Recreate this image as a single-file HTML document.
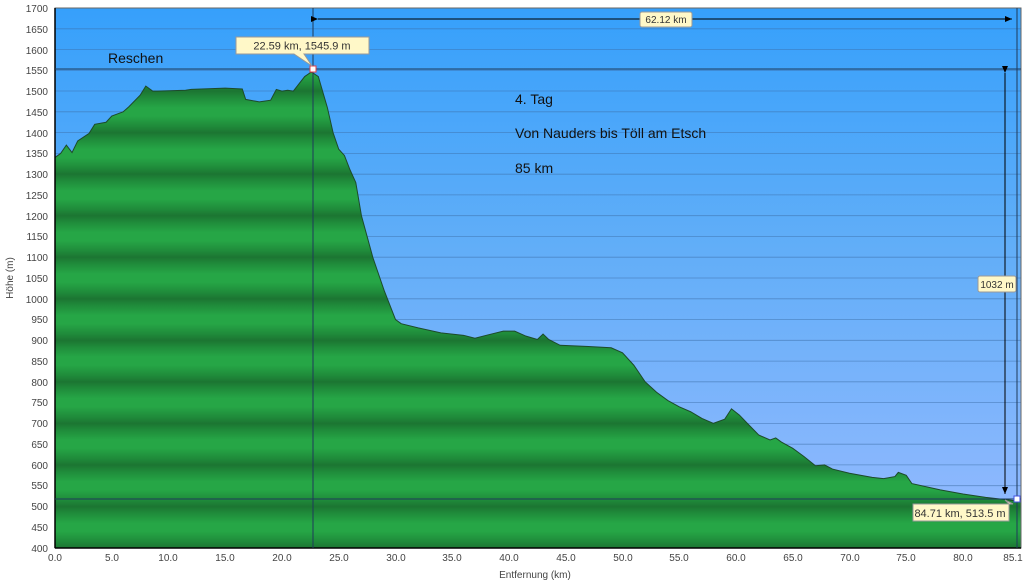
<!DOCTYPE html>
<html><head><meta charset="utf-8"><style>
body{margin:0;background:#fff;width:1024px;height:583px;overflow:hidden;font-family:"Liberation Sans",sans-serif}
svg{position:absolute;left:0;top:0}
</style></head><body>
<svg width="1024" height="583" viewBox="0 0 1024 583">
<defs>
<linearGradient id="sky" x1="0" y1="0" x2="0" y2="1">
<stop offset="0" stop-color="#36a0fb"/><stop offset="0.45" stop-color="#62aef8"/><stop offset="1" stop-color="#96baff"/></linearGradient>
<linearGradient id="sg" x1="0" y1="0" x2="0" y2="1">
<stop offset="0" stop-color="#1c7532"/><stop offset="0.15" stop-color="#1f8a3a"/><stop offset="0.4" stop-color="#26a646"/><stop offset="0.6" stop-color="#26a646"/><stop offset="0.85" stop-color="#1f8a3a"/><stop offset="1" stop-color="#1c7532"/></linearGradient>
<pattern id="stripes" x="0" y="8" width="20" height="41.54" patternUnits="userSpaceOnUse">
<rect width="20" height="41.54" fill="url(#sg)"/>
</pattern>
<clipPath id="cp">
<polygon transform="translate(55,548) scale(11.35,-0.41538) translate(0,-400)" points="0,400 0,1340 0.5,1350 1,1370 1.5,1352 2,1380 3,1398 3.5,1420 4.5,1425 5,1440 5.5,1445 6,1450 6.5,1462 7.5,1490 8,1512 8.6,1500 9,1500 11.5,1502 12,1504 15,1507 16.5,1505 16.8,1480 18,1474 19,1478 19.5,1504 20,1500 20.5,1502 21,1500 22,1535 22.59,1545.9 23.2,1535 24,1460 24.5,1400 25,1360 25.5,1345 26,1310 26.5,1280 27,1200 27.5,1150 28,1100 28.5,1060 29,1020 30,950 30.5,940 32,930 34,918 36,912 37,905 38,912 39.5,922 40.5,922 41.5,910 42.5,902 43,915 43.5,902 44.5,888 47,885 49,882 50,870 51,840 52,800 53,775 54,755 55,740 56,728 57,712 58,700 59,710 59.6,735 60.3,720 61,700 62,672 63,660 63.5,665 64,655 65,640 66,620 67,598 67.8,600 68.5,590 70,580 72,570 73,567 74,572 74.3,582 75,575 75.5,555 78,540 80,530 82,522 84.71,513.5 85.1,516 85.1,400"/>
</clipPath>
<marker id="ar" markerWidth="8" markerHeight="8" refX="7" refY="4" orient="auto"><path d="M0,1 L7,4 L0,7z" fill="#000"/></marker>
</defs>
<rect x="0" y="0" width="1024" height="583" fill="#fff"/>
<rect x="55" y="8" width="966" height="540" fill="url(#sky)"/>
<g stroke="#3d6fa8" stroke-width="0.8" opacity="0.6">
<line x1="55" x2="1021" y1="28.8" y2="28.8"/><line x1="55" x2="1021" y1="49.5" y2="49.5"/><line x1="55" x2="1021" y1="70.3" y2="70.3"/><line x1="55" x2="1021" y1="91" y2="91"/><line x1="55" x2="1021" y1="111.8" y2="111.8"/><line x1="55" x2="1021" y1="132.6" y2="132.6"/><line x1="55" x2="1021" y1="153.4" y2="153.4"/><line x1="55" x2="1021" y1="174.2" y2="174.2"/><line x1="55" x2="1021" y1="194.9" y2="194.9"/><line x1="55" x2="1021" y1="215.7" y2="215.7"/><line x1="55" x2="1021" y1="236.5" y2="236.5"/><line x1="55" x2="1021" y1="257.2" y2="257.2"/><line x1="55" x2="1021" y1="278" y2="278"/><line x1="55" x2="1021" y1="298.8" y2="298.8"/><line x1="55" x2="1021" y1="319.5" y2="319.5"/><line x1="55" x2="1021" y1="340.3" y2="340.3"/><line x1="55" x2="1021" y1="361.1" y2="361.1"/><line x1="55" x2="1021" y1="381.8" y2="381.8"/><line x1="55" x2="1021" y1="402.6" y2="402.6"/><line x1="55" x2="1021" y1="423.4" y2="423.4"/><line x1="55" x2="1021" y1="444.2" y2="444.2"/><line x1="55" x2="1021" y1="464.9" y2="464.9"/><line x1="55" x2="1021" y1="485.7" y2="485.7"/><line x1="55" x2="1021" y1="506.5" y2="506.5"/><line x1="55" x2="1021" y1="527.2" y2="527.2"/>
</g>
<rect x="55" y="8" width="966" height="540" fill="url(#stripes)" clip-path="url(#cp)"/>
<polyline transform="translate(55,548) scale(11.35,-0.41538) translate(0,-400)" fill="none" stroke="#1d4a2a" stroke-width="1" vector-effect="non-scaling-stroke" points="0,1340 0.5,1350 1,1370 1.5,1352 2,1380 3,1398 3.5,1420 4.5,1425 5,1440 5.5,1445 6,1450 6.5,1462 7.5,1490 8,1512 8.6,1500 9,1500 11.5,1502 12,1504 15,1507 16.5,1505 16.8,1480 18,1474 19,1478 19.5,1504 20,1500 20.5,1502 21,1500 22,1535 22.59,1545.9 23.2,1535 24,1460 24.5,1400 25,1360 25.5,1345 26,1310 26.5,1280 27,1200 27.5,1150 28,1100 28.5,1060 29,1020 30,950 30.5,940 32,930 34,918 36,912 37,905 38,912 39.5,922 40.5,922 41.5,910 42.5,902 43,915 43.5,902 44.5,888 47,885 49,882 50,870 51,840 52,800 53,775 54,755 55,740 56,728 57,712 58,700 59,710 59.6,735 60.3,720 61,700 62,672 63,660 63.5,665 64,655 65,640 66,620 67,598 67.8,600 68.5,590 70,580 72,570 73,567 74,572 74.3,582 75,575 75.5,555 78,540 80,530 82,522 84.71,513.5 85.1,516"/>
<rect x="55" y="8" width="966" height="540" fill="none" stroke="#666" stroke-width="1"/>
<line x1="55" y1="8" x2="55" y2="548" stroke="#000" stroke-width="1.5"/>
<line x1="55" y1="548" x2="1021" y2="548" stroke="#000" stroke-width="1.5"/>
<g stroke="#1e3a5a" stroke-width="1">
<line x1="55" x2="1021" y1="69" y2="69"/><line x1="55" x2="1021" y1="499" y2="499"/>
<line x1="313" x2="313" y1="8" y2="548"/><line x1="1017" x2="1017" y1="8" y2="548"/>
</g>
<line x1="318" y1="19" x2="1012" y2="19" stroke="#000" marker-start="url(#ar)" marker-end="url(#ar)"/>
<line x1="1005" y1="73" x2="1005" y2="494" stroke="#000" marker-start="url(#ar)" marker-end="url(#ar)"/>
<rect x="310" y="66" width="6" height="6" fill="#fff" stroke="#e0404a"/>
<rect x="1014" y="496" width="6" height="6" fill="#fff" stroke="#4050e0"/>
<g font-size="10" fill="#333">
<rect x="640" y="12" width="52" height="15" rx="2" fill="#fff8c8" stroke="#999"/><text x="666" y="23" text-anchor="middle">62.12 km</text>
<rect x="978" y="276" width="38" height="16" rx="2" fill="#fff8c8" stroke="#999"/><text x="997" y="288" text-anchor="middle">1032 m</text>
<path d="M236,37 h133 v17 h-65 l8,12 l-18,-12 h-58z" fill="#fff8c8" stroke="#999"/><text x="302" y="49.5" text-anchor="middle" font-size="11">22.59 km, 1545.9 m</text>
<path d="M913,504 h100 l-8,-4 l4,4 v17 h-96z" fill="#fff8c8" stroke="#999"/><text x="960" y="517" text-anchor="middle" font-size="11">84.71 km, 513.5 m</text>
</g>
<g font-size="14" fill="#111">
<text x="108" y="63">Reschen</text>
<text x="515" y="104">4. Tag</text>
<text x="515" y="138">Von Nauders bis Töll am Etsch</text>
<text x="515" y="173">85 km</text>
</g>
<g font-size="10" fill="#444" text-anchor="end">
<text x="48" y="12">1700</text><text x="48" y="33">1650</text><text x="48" y="54">1600</text><text x="48" y="74">1550</text><text x="48" y="95">1500</text><text x="48" y="116">1450</text><text x="48" y="137">1400</text><text x="48" y="157">1350</text><text x="48" y="178">1300</text><text x="48" y="199">1250</text><text x="48" y="220">1200</text><text x="48" y="240">1150</text><text x="48" y="261">1100</text><text x="48" y="282">1050</text><text x="48" y="303">1000</text><text x="48" y="323">950</text><text x="48" y="344">900</text><text x="48" y="365">850</text><text x="48" y="386">800</text><text x="48" y="406">750</text><text x="48" y="427">700</text><text x="48" y="448">650</text><text x="48" y="469">600</text><text x="48" y="489">550</text><text x="48" y="510">500</text><text x="48" y="531">450</text><text x="48" y="552">400</text>
</g>
<g font-size="10" fill="#444" text-anchor="middle">
<text x="55" y="561">0.0</text><text x="112" y="561">5.0</text><text x="168" y="561">10.0</text><text x="225" y="561">15.0</text><text x="282" y="561">20.0</text><text x="339" y="561">25.0</text><text x="396" y="561">30.0</text><text x="452" y="561">35.0</text><text x="509" y="561">40.0</text><text x="566" y="561">45.0</text><text x="623" y="561">50.0</text><text x="679" y="561">55.0</text><text x="736" y="561">60.0</text><text x="793" y="561">65.0</text><text x="850" y="561">70.0</text><text x="906" y="561">75.0</text><text x="963" y="561">80.0</text><text x="1013" y="561">85.1</text>
<text x="535" y="578">Entfernung   (km)</text>
</g>
<text x="13" y="278" font-size="10" fill="#444" text-anchor="middle" transform="rotate(-90 13 278)">Höhe (m)</text>
</svg>
</body></html>
